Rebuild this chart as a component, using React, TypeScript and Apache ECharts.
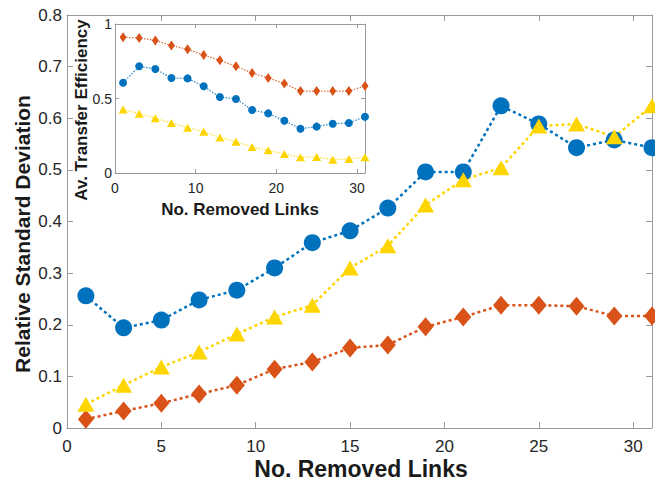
import React, { useEffect, useRef } from "react";
import * as echarts from "echarts";

// ---- data ----
const removedLinks = [1, 3, 5, 7, 9, 11, 13, 15, 17, 19, 21, 23, 25, 27, 29, 31];

// main plot: relative standard deviation
const rsdCircle = [0.256, 0.194, 0.209, 0.248, 0.267, 0.310, 0.359, 0.382, 0.426, 0.496, 0.496, 0.624, 0.589, 0.543, 0.558, 0.543];
const rsdDiamond = [0.017, 0.033, 0.048, 0.066, 0.083, 0.114, 0.128, 0.155, 0.161, 0.196, 0.215, 0.238, 0.238, 0.236, 0.217, 0.217];
const rsdTriangle = [0.046, 0.083, 0.118, 0.147, 0.182, 0.215, 0.238, 0.310, 0.353, 0.432, 0.481, 0.504, 0.585, 0.589, 0.564, 0.624];

// inset: average transfer efficiency
const effCircle = [0.606, 0.716, 0.698, 0.638, 0.635, 0.582, 0.510, 0.497, 0.423, 0.400, 0.351, 0.297, 0.311, 0.331, 0.336, 0.378];
const effDiamond = [0.911, 0.906, 0.890, 0.855, 0.830, 0.792, 0.756, 0.716, 0.671, 0.638, 0.600, 0.550, 0.550, 0.550, 0.550, 0.584];
const effTriangle = [0.427, 0.398, 0.367, 0.336, 0.304, 0.277, 0.239, 0.210, 0.174, 0.152, 0.128, 0.105, 0.107, 0.089, 0.094, 0.105];

const mainXLabel = "No. Removed Links";
const mainYLabel = "Relative Standard Deviation";
const insetXLabel = "No. Removed Links";
const insetYLabel = "Av. Transfer Efficiency";

const BLUE = "#0072BD";
const ORANGE = "#D95319";
const YELLOW = "#FFD500";
const AX = "#9a9a9a";
const TXT = "#262626";
const FONT = "'Liberation Sans', Arial, Helvetica, sans-serif";

const pairs = (ys: number[]) => removedLinks.map((x, i) => [x, ys[i]]);

export default function App() {
  const ref = useRef<HTMLDivElement>(null);
  useEffect(() => {
    if (!ref.current) return;
    const chart = echarts.init(ref.current, undefined, { renderer: "svg" });

    const axisCommon = (gridIndex: number, min: number, max: number, interval: number, position: string, showLabel: boolean, fontSize: number, margin: number, tickLen: number, mod: number) => ({
      gridIndex,
      type: "value",
      min,
      max,
      interval,
      position,
      axisLine: { show: true, onZero: false, lineStyle: { color: AX, width: 1 } },
      axisTick: { show: true, inside: true, length: tickLen, lineStyle: { color: AX, width: 1 } },
      axisLabel: {
        show: showLabel,
        margin,
        fontSize,
        color: TXT,
        fontFamily: FONT,
        formatter: (v: number) => {
          const r = Math.round(v * 1000) / 1000;
          if (Math.abs((r / mod) - Math.round(r / mod)) > 1e-6) return "";
          return String(r);
        },
      },
      splitLine: { show: false },
    });

    const option: any = {
      animation: false,
      grid: [
        { left: 67, top: 15, width: 589, height: 413, containLabel: false },
        { left: 115, top: 24, width: 250, height: 149, containLabel: false },
      ],
      xAxis: [
        axisCommon(0, 0, 31, 5, "bottom", true, 17, 10, 6, 5),
        axisCommon(0, 0, 31, 5, "top", false, 17, 10, 6, 5),
        axisCommon(1, 0, 31, 10, "bottom", true, 14, 8, 4, 10),
        axisCommon(1, 0, 31, 10, "top", false, 14, 8, 4, 10),
      ],
      yAxis: [
        axisCommon(0, 0, 0.8, 0.1, "left", true, 17, 5, 6, 0.1),
        axisCommon(0, 0, 0.8, 0.1, "right", false, 17, 5, 6, 0.1),
        axisCommon(1, 0, 1, 0.5, "left", true, 14, 3, 4, 0.5),
        axisCommon(1, 0, 1, 0.5, "right", false, 14, 3, 4, 0.5),
      ],
      series: [
        {
          type: "line", xAxisIndex: 0, yAxisIndex: 0, data: pairs(rsdCircle),
          symbol: "circle", symbolSize: 17,
          itemStyle: { color: BLUE }, lineStyle: { color: BLUE, width: 2.5, type: [3, 3] },
        },
        {
          type: "line", xAxisIndex: 0, yAxisIndex: 0, data: pairs(rsdDiamond),
          symbol: "diamond", symbolSize: [16, 19],
          itemStyle: { color: ORANGE }, lineStyle: { color: ORANGE, width: 2.5, type: [3, 3] },
        },
        {
          type: "line", xAxisIndex: 0, yAxisIndex: 0, data: pairs(rsdTriangle),
          symbol: "triangle", symbolSize: [17, 15],
          itemStyle: { color: YELLOW }, lineStyle: { color: YELLOW, width: 2.5, type: [3, 3] },
        },
        {
          type: "line", xAxisIndex: 2, yAxisIndex: 2, data: pairs(effCircle),
          symbol: "circle", symbolSize: 8,
          itemStyle: { color: BLUE }, lineStyle: { color: BLUE, width: 1.2, type: [1.5, 1.5], opacity: 0.85 },
        },
        {
          type: "line", xAxisIndex: 2, yAxisIndex: 2, data: pairs(effDiamond),
          symbol: "diamond", symbolSize: [7, 10],
          itemStyle: { color: ORANGE }, lineStyle: { color: ORANGE, width: 1.2, type: [1.5, 1.5], opacity: 0.85 },
        },
        {
          type: "line", xAxisIndex: 2, yAxisIndex: 2, data: pairs(effTriangle),
          symbol: "triangle", symbolSize: [9, 8],
          itemStyle: { color: YELLOW }, lineStyle: { color: YELLOW, width: 1.2, type: [1.5, 1.5], opacity: 0.85 },
        },
      ],
      graphic: [
        {
          type: "text", x: 361, y: 469,
          style: { text: mainXLabel, fontSize: 23, fontWeight: "bold", fontFamily: FONT, fill: "#1a1a1a", align: "center", verticalAlign: "middle", textAlign: "center", textVerticalAlign: "middle" },
        },
        {
          type: "text", x: 22, y: 234, rotation: Math.PI / 2,
          style: { text: mainYLabel, fontSize: 21, fontWeight: "bold", fontFamily: FONT, fill: "#1a1a1a", align: "center", verticalAlign: "middle", textAlign: "center", textVerticalAlign: "middle" },
        },
        {
          type: "text", x: 240, y: 209,
          style: { text: insetXLabel, fontSize: 17, fontWeight: "bold", fontFamily: FONT, fill: "#1a1a1a", align: "center", verticalAlign: "middle", textAlign: "center", textVerticalAlign: "middle" },
        },
        {
          type: "text", x: 81, y: 110, rotation: Math.PI / 2,
          style: { text: insetYLabel, fontSize: 17, fontWeight: "bold", fontFamily: FONT, fill: "#1a1a1a", align: "center", verticalAlign: "middle", textAlign: "center", textVerticalAlign: "middle" },
        },
      ],
    };

    chart.setOption(option);
    return () => chart.dispose();
  }, []);

  return <div ref={ref} style={{ position: "absolute", left: 0, top: 0, width: 655, height: 485 }} />;
}
